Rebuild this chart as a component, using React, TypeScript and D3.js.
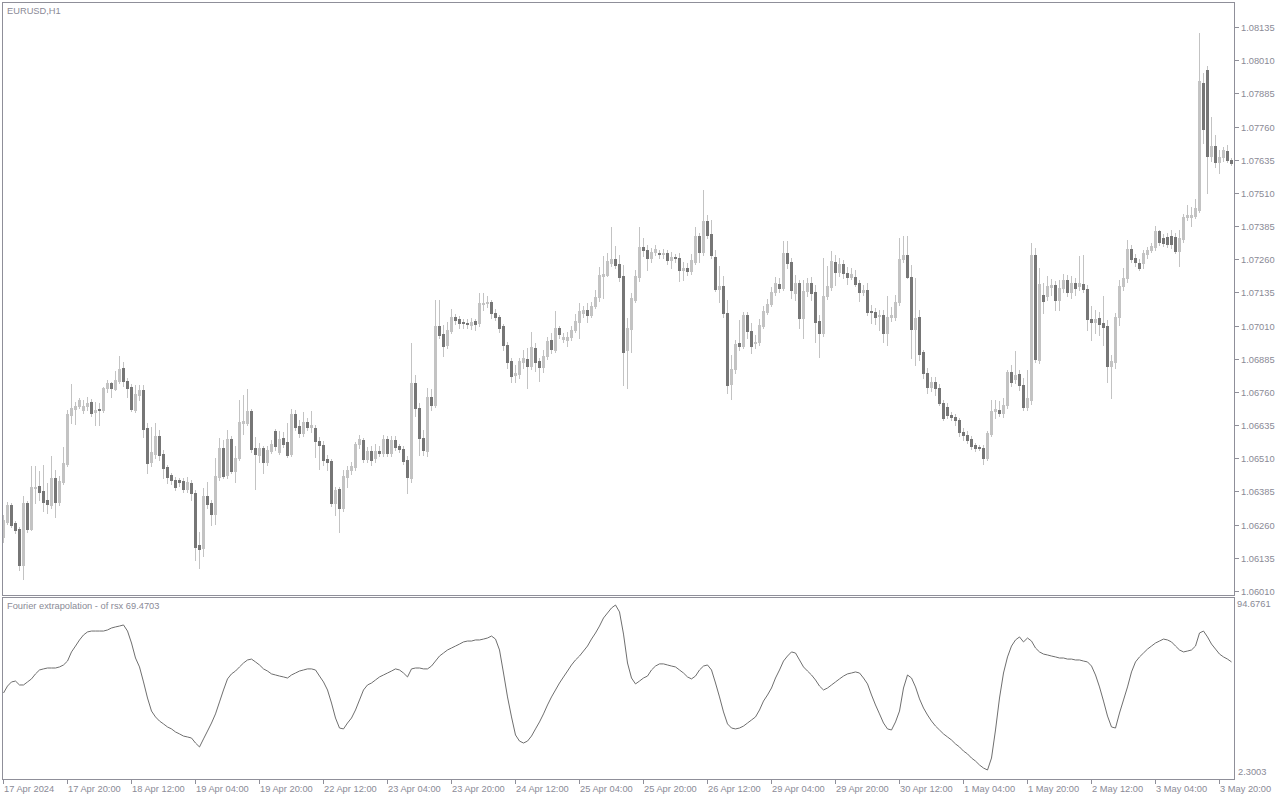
import React from 'react';
import * as d3 from 'd3';

const symbolTitle = 'EURUSD,H1';
const indicatorTitle = 'Fourier extrapolation - of rsx 69.4703';
const indicatorMaxLabel = '94.6761';
const indicatorMinLabel = '2.3003';

const timeLabels = ['17 Apr 2024','17 Apr 20:00','18 Apr 12:00','19 Apr 04:00','19 Apr 20:00','22 Apr 12:00','23 Apr 04:00','23 Apr 20:00','24 Apr 12:00','25 Apr 04:00','25 Apr 20:00','26 Apr 12:00','29 Apr 04:00','29 Apr 20:00','30 Apr 12:00','1 May 04:00','1 May 20:00','2 May 12:00','3 May 04:00','3 May 20:00'];
const timeLabelBars = [0,16,32,48,64,80,96,112,128,144,160,176,192,208,224,240,256,272,288,304];

const priceTicks = [1.08135,1.08010,1.07885,1.07760,1.07635,1.07510,1.07385,1.07260,1.07135,1.07010,1.06885,1.06760,1.06635,1.06510,1.06385,1.06260,1.06135,1.06010];

const open = [
1.06213,1.06270,1.06334,1.06266,1.06243,1.06108,1.06341,1.06243,1.06398,1.06405,
1.06386,1.06352,1.06334,1.06435,1.06345,1.06420,1.06488,1.06673,1.06695,1.06707,
1.06692,1.06707,1.06722,1.06684,1.06695,1.06692,1.06774,1.06793,1.06771,1.06801,
1.06850,1.06801,1.06778,1.06692,1.06748,1.06767,1.06624,1.06496,1.06526,1.06594,
1.06526,1.06477,1.06447,1.06428,1.06428,1.06424,1.06394,1.06416,1.06379,1.06183,
1.06172,1.06368,1.06341,1.06300,1.06439,1.06548,1.06447,1.06582,1.06462,1.06511,
1.06643,1.06643,1.06688,1.06548,1.06522,1.06548,1.06496,1.06537,1.06612,1.06533,
1.06586,1.06571,1.06526,1.06677,1.06631,1.06605,1.06646,1.06628,1.06624,1.06575,
1.06560,1.06507,1.06499,1.06341,1.06394,1.06322,1.06439,1.06466,1.06477,1.06564,
1.06579,1.06507,1.06537,1.06511,1.06537,1.06530,1.06582,1.06530,1.06579,1.06556,
1.06545,1.06503,1.06435,1.06793,1.06699,1.06586,1.06537,1.06741,1.06710,1.07008,
1.06978,1.06936,1.06989,1.07042,1.07034,1.07023,1.07019,1.07012,1.07027,1.07019,
1.07091,1.07095,1.07098,1.07057,1.07042,1.07008,1.06936,1.06876,1.06823,1.06827,
1.06872,1.06884,1.06857,1.06925,1.06876,1.06854,1.06895,1.06955,1.06918,1.07000,
1.06959,1.06955,1.06967,1.06993,1.07023,1.07057,1.07068,1.07049,1.07083,1.07117,
1.07196,1.07200,1.07245,1.07260,1.07241,1.07196,1.06918,1.06997,1.07106,1.07193,
1.07306,1.07294,1.07264,1.07287,1.07283,1.07279,1.07283,1.07257,1.07268,1.07264,
1.07219,1.07226,1.07215,1.07249,1.07347,1.07287,1.07404,1.07355,1.07268,1.07147,
1.07159,1.07057,1.06790,1.06846,1.06944,1.06933,1.07049,1.06989,1.06944,1.06948,
1.07008,1.07061,1.07091,1.07136,1.07166,1.07151,1.07283,1.07249,1.07132,1.07170,
1.07038,1.07140,1.07170,1.07136,1.07027,1.06982,1.07121,1.07155,1.07249,1.07211,
1.07241,1.07208,1.07193,1.07193,1.07170,1.07136,1.07144,1.07065,1.07061,1.07046,
1.07049,1.06982,1.07042,1.07042,1.07098,1.07260,1.07275,1.07193,1.06997,1.07042,
1.06910,1.06831,1.06778,1.06797,1.06774,1.06718,1.06703,1.06673,1.06665,1.06654,
1.06609,1.06597,1.06582,1.06560,1.06552,1.06548,1.06511,1.06601,1.06688,1.06692,
1.06680,1.06710,1.06835,1.06808,1.06827,1.06786,1.06703,1.06729,1.07275,1.06880,
1.07125,1.07121,1.07155,1.07162,1.07106,1.07151,1.07181,1.07136,1.07170,1.07159,
1.07166,1.07147,1.07034,1.07023,1.07038,1.07019,1.07008,1.06857,1.06872,1.07042,
1.07159,1.07189,1.07298,1.07264,1.07245,1.07245,1.07279,1.07294,1.07306,1.07366,
1.07340,1.07343,1.07347,1.07343,1.07291,1.07336,1.07419,1.07419,1.07422,1.07445,
1.07923,1.07972,1.07648,1.07686,1.07626,1.07645,1.07667,1.07633
];

const high = [
1.06296,1.06345,1.06341,1.06273,1.06251,1.06368,1.06349,1.06481,1.06481,1.06462,
1.06484,1.06416,1.06518,1.06466,1.06443,1.06552,1.06692,1.06790,1.06722,1.06737,
1.06729,1.06741,1.06733,1.06722,1.06718,1.06778,1.06805,1.06797,1.06838,1.06895,
1.06872,1.06812,1.06790,1.06786,1.06786,1.06786,1.06643,1.06628,1.06643,1.06616,
1.06541,1.06484,1.06454,1.06439,1.06435,1.06435,1.06439,1.06428,1.06390,1.06232,
1.06398,1.06420,1.06352,1.06511,1.06586,1.06579,1.06616,1.06594,1.06556,1.06729,
1.06748,1.06771,1.06695,1.06590,1.06567,1.06556,1.06556,1.06579,1.06620,1.06612,
1.06609,1.06643,1.06695,1.06692,1.06654,1.06684,1.06661,1.06688,1.06635,1.06590,
1.06575,1.06522,1.06507,1.06401,1.06401,1.06466,1.06481,1.06496,1.06571,1.06597,
1.06586,1.06552,1.06556,1.06564,1.06556,1.06597,1.06594,1.06594,1.06594,1.06564,
1.06556,1.06518,1.06944,1.06823,1.06718,1.06616,1.06774,1.06771,1.07106,1.07106,
1.07012,1.07023,1.07072,1.07053,1.07046,1.07034,1.07034,1.07038,1.07034,1.07132,
1.07132,1.07121,1.07106,1.07072,1.07049,1.07016,1.06948,1.06887,1.06861,1.06887,
1.06918,1.06925,1.06985,1.06944,1.06887,1.06918,1.06967,1.06982,1.07065,1.07008,
1.06982,1.06985,1.07008,1.07053,1.07095,1.07083,1.07095,1.07098,1.07144,1.07230,
1.07272,1.07283,1.07381,1.07309,1.07275,1.07238,1.07038,1.07132,1.07219,1.07381,
1.07340,1.07313,1.07302,1.07313,1.07294,1.07298,1.07294,1.07287,1.07279,1.07283,
1.07249,1.07245,1.07279,1.07381,1.07358,1.07520,1.07426,1.07407,1.07294,1.07234,
1.07196,1.07106,1.06899,1.06955,1.07031,1.07061,1.07061,1.07019,1.06974,1.07034,
1.07083,1.07110,1.07155,1.07193,1.07189,1.07328,1.07328,1.07264,1.07200,1.07181,
1.07181,1.07189,1.07193,1.07162,1.07049,1.07264,1.07234,1.07291,1.07275,1.07264,
1.07257,1.07230,1.07226,1.07219,1.07181,1.07162,1.07170,1.07087,1.07076,1.07068,
1.07068,1.07121,1.07080,1.07125,1.07340,1.07347,1.07347,1.07238,1.07189,1.07068,
1.06918,1.06850,1.06816,1.06816,1.06790,1.06729,1.06718,1.06684,1.06677,1.06661,
1.06624,1.06612,1.06594,1.06567,1.06560,1.06560,1.06612,1.06729,1.06729,1.06725,
1.06737,1.06842,1.06861,1.06914,1.06842,1.06812,1.06842,1.07321,1.07302,1.07226,
1.07170,1.07196,1.07185,1.07177,1.07181,1.07204,1.07200,1.07196,1.07189,1.07272,
1.07275,1.07162,1.07083,1.07068,1.07061,1.07121,1.07031,1.06899,1.07057,1.07181,
1.07226,1.07332,1.07313,1.07279,1.07260,1.07294,1.07306,1.07321,1.07385,1.07370,
1.07355,1.07358,1.07370,1.07358,1.07370,1.07430,1.07464,1.07456,1.07486,1.08112,
1.07961,1.07987,1.07795,1.07728,1.07671,1.07682,1.07690,1.07641
];

const low = [
1.06194,1.06262,1.06251,1.06228,1.06089,1.06055,1.06232,1.06240,1.06341,1.06352,
1.06311,1.06304,1.06322,1.06288,1.06334,1.06413,1.06481,1.06643,1.06639,1.06699,
1.06680,1.06692,1.06669,1.06635,1.06635,1.06684,1.06759,1.06741,1.06767,1.06793,
1.06782,1.06741,1.06688,1.06684,1.06729,1.06590,1.06454,1.06481,1.06511,1.06503,
1.06435,1.06416,1.06413,1.06390,1.06405,1.06383,1.06383,1.06352,1.06127,1.06096,
1.06142,1.06322,1.06258,1.06262,1.06428,1.06435,1.06435,1.06454,1.06420,1.06503,
1.06601,1.06635,1.06533,1.06394,1.06496,1.06454,1.06484,1.06530,1.06541,1.06526,
1.06552,1.06515,1.06518,1.06616,1.06590,1.06594,1.06616,1.06609,1.06515,1.06469,
1.06484,1.06466,1.06330,1.06296,1.06232,1.06311,1.06401,1.06450,1.06466,1.06548,
1.06496,1.06496,1.06484,1.06496,1.06518,1.06518,1.06518,1.06518,1.06541,1.06533,
1.06488,1.06379,1.06420,1.06669,1.06522,1.06522,1.06518,1.06692,1.06703,1.06963,
1.06895,1.06925,1.06982,1.07016,1.07000,1.07000,1.07000,1.06997,1.06993,1.07008,
1.07068,1.07080,1.07038,1.07031,1.06985,1.06918,1.06850,1.06797,1.06797,1.06812,
1.06850,1.06774,1.06846,1.06838,1.06801,1.06835,1.06884,1.06906,1.06910,1.06963,
1.06948,1.06933,1.06955,1.06985,1.06963,1.07042,1.07023,1.07042,1.07076,1.07102,
1.07113,1.07196,1.07234,1.07226,1.07177,1.06786,1.06774,1.06910,1.07098,1.07177,
1.07272,1.07219,1.07249,1.07275,1.07264,1.07264,1.07241,1.07226,1.07249,1.07177,
1.07181,1.07200,1.07204,1.07241,1.07249,1.07275,1.07340,1.07264,1.07140,1.07098,
1.07042,1.06756,1.06733,1.06831,1.06918,1.06925,1.06963,1.06906,1.06925,1.06936,
1.07000,1.07053,1.07083,1.07125,1.07136,1.07144,1.07226,1.07113,1.07106,1.07000,
1.06963,1.07121,1.07106,1.06948,1.06891,1.06970,1.07110,1.07144,1.07162,1.07196,
1.07189,1.07166,1.07185,1.07159,1.07102,1.07125,1.07049,1.07019,1.07016,1.06993,
1.06948,1.06936,1.07027,1.07031,1.07087,1.07249,1.07189,1.06887,1.06861,1.06880,
1.06812,1.06756,1.06763,1.06748,1.06710,1.06654,1.06661,1.06654,1.06635,1.06594,
1.06579,1.06567,1.06545,1.06537,1.06541,1.06488,1.06503,1.06594,1.06661,1.06669,
1.06665,1.06699,1.06782,1.06793,1.06767,1.06692,1.06692,1.06714,1.06872,1.06869,
1.07057,1.07106,1.07125,1.07068,1.07068,1.07136,1.07121,1.07113,1.07125,1.07144,
1.07136,1.06993,1.06955,1.06982,1.06974,1.06936,1.06797,1.06737,1.06850,1.07012,
1.07144,1.07174,1.07249,1.07234,1.07219,1.07226,1.07264,1.07287,1.07294,1.07313,
1.07309,1.07306,1.07302,1.07283,1.07234,1.07324,1.07407,1.07385,1.07415,1.07437,
1.07697,1.07509,1.07630,1.07607,1.07584,1.07630,1.07626,1.07614
];

const close = [
1.06277,1.06334,1.06258,1.06240,1.06108,1.06341,1.06243,1.06401,1.06401,1.06383,
1.06345,1.06337,1.06435,1.06345,1.06424,1.06492,1.06677,1.06699,1.06707,1.06729,
1.06707,1.06718,1.06680,1.06692,1.06692,1.06774,1.06793,1.06774,1.06805,1.06846,
1.06801,1.06774,1.06695,1.06752,1.06767,1.06620,1.06492,1.06533,1.06594,1.06522,
1.06473,1.06439,1.06428,1.06401,1.06420,1.06394,1.06420,1.06379,1.06176,1.06168,
1.06368,1.06337,1.06300,1.06443,1.06548,1.06443,1.06582,1.06462,1.06511,1.06646,
1.06650,1.06688,1.06545,1.06526,1.06548,1.06496,1.06541,1.06564,1.06556,1.06582,
1.06564,1.06522,1.06677,1.06628,1.06605,1.06646,1.06628,1.06635,1.06575,1.06560,
1.06503,1.06496,1.06341,1.06390,1.06322,1.06443,1.06466,1.06481,1.06564,1.06582,
1.06507,1.06537,1.06503,1.06537,1.06530,1.06582,1.06530,1.06579,1.06552,1.06545,
1.06499,1.06439,1.06793,1.06699,1.06586,1.06541,1.06741,1.06710,1.07008,1.06974,
1.06933,1.06993,1.07042,1.07031,1.07019,1.07019,1.07017,1.07023,1.07016,1.07095,
1.07095,1.07098,1.07057,1.07042,1.07000,1.06936,1.06872,1.06820,1.06831,1.06876,
1.06887,1.06857,1.06929,1.06872,1.06854,1.06895,1.06952,1.06921,1.07000,1.06978,
1.06967,1.06967,1.06993,1.07027,1.07065,1.07068,1.07049,1.07083,1.07117,1.07200,
1.07204,1.07253,1.07260,1.07238,1.07193,1.06910,1.07000,1.07113,1.07196,1.07306,
1.07294,1.07264,1.07287,1.07298,1.07279,1.07283,1.07257,1.07268,1.07264,1.07219,
1.07226,1.07215,1.07257,1.07347,1.07287,1.07404,1.07351,1.07275,1.07147,1.07159,
1.07057,1.06786,1.06846,1.06940,1.06933,1.07049,1.06989,1.06933,1.06948,1.07012,
1.07065,1.07091,1.07136,1.07170,1.07151,1.07283,1.07245,1.07144,1.07170,1.07038,
1.07140,1.07170,1.07132,1.07023,1.06982,1.07121,1.07159,1.07253,1.07211,1.07241,
1.07208,1.07193,1.07204,1.07166,1.07136,1.07144,1.07061,1.07061,1.07042,1.07049,
1.06982,1.07042,1.07049,1.07098,1.07260,1.07275,1.07193,1.06997,1.07038,1.06903,
1.06831,1.06778,1.06797,1.06774,1.06718,1.06661,1.06673,1.06665,1.06654,1.06609,
1.06597,1.06579,1.06556,1.06548,1.06548,1.06511,1.06605,1.06688,1.06695,1.06680,
1.06710,1.06835,1.06797,1.06823,1.06786,1.06703,1.06737,1.07275,1.06884,1.07166,
1.07102,1.07159,1.07162,1.07106,1.07151,1.07181,1.07136,1.07170,1.07151,1.07170,
1.07147,1.07034,1.07023,1.07034,1.07016,1.07004,1.06857,1.06876,1.07042,1.07159,
1.07189,1.07298,1.07260,1.07249,1.07226,1.07283,1.07294,1.07309,1.07366,1.07324,
1.07321,1.07317,1.07317,1.07291,1.07340,1.07419,1.07426,1.07426,1.07453,1.07931,
1.07750,1.07648,1.07686,1.07626,1.07645,1.07671,1.07633,1.07622
];

const rsx = [
45.4,49.3,51.6,52.1,49.9,49.9,51.6,53.3,56.1,58.3,
58.9,59.4,59.4,59.4,60.0,61.1,63.3,68.4,71.7,75.1,
77.9,79.6,80.1,80.1,80.1,80.1,80.7,81.8,82.4,82.9,
83.5,80.1,73.4,65.0,60.0,51.6,42.6,35.3,32.0,29.7,
28.1,26.4,25.3,23.6,22.5,21.3,20.8,20.2,17.4,15.2,
19.7,24.1,28.6,33.7,40.4,47.1,53.3,56.1,57.7,60.0,
62.2,63.9,64.4,62.8,61.1,58.9,57.7,56.1,55.5,54.9,
54.4,53.8,55.5,56.6,57.7,58.3,58.9,58.9,58.3,54.9,
51.6,47.1,39.8,31.4,25.8,25.3,28.6,31.4,35.9,41.5,
47.1,49.9,51.0,52.7,54.4,55.5,56.6,57.7,58.9,58.3,
56.6,54.4,58.9,59.4,59.4,58.9,58.9,60.5,63.3,66.1,
67.8,69.5,70.6,71.7,72.8,74.0,74.5,74.5,75.1,75.1,
75.6,76.2,77.3,75.6,69.5,56.6,43.2,32.0,21.9,18.5,
17.4,18.5,21.3,25.3,29.2,33.7,38.7,43.2,47.1,51.0,
54.4,57.7,61.1,63.9,66.1,68.9,71.7,75.6,79.0,82.9,
87.4,90.2,93.0,94.6761,90.8,78.4,62.2,53.8,50.5,52.1,
53.8,54.9,58.3,60.5,61.7,61.7,61.1,60.5,60.0,58.3,
56.6,54.4,53.3,54.9,58.3,60.5,61.1,58.3,51.0,43.2,
34.8,28.1,25.8,25.3,25.8,26.9,28.6,30.3,32.0,35.9,
40.9,44.3,48.2,53.8,58.3,63.3,66.1,68.4,67.8,63.9,
60.0,57.7,55.5,52.7,49.3,47.1,48.2,49.9,51.6,53.3,
54.9,56.1,56.6,57.2,56.6,53.8,50.5,44.3,38.7,33.7,
28.6,25.3,24.7,29.2,35.3,48.2,55.5,53.8,48.8,42.1,
37.0,33.1,29.7,26.9,24.7,22.5,20.8,19.1,16.9,15.2,
12.9,11.3,9.0,7.3,5.1,3.4,2.3003,9.0,24.7,42.6,
56.6,65.6,71.7,75.1,76.8,74.0,76.2,74.5,70.6,68.4,
67.2,66.7,66.1,65.6,65.0,65.0,64.4,64.4,63.9,63.9,
63.3,62.8,60.5,55.5,48.8,40.9,32.5,26.4,25.8,34.2,
41.5,48.8,57.2,62.8,65.6,67.8,70.0,71.7,73.4,74.5,
75.6,75.1,74.0,71.7,69.5,68.4,68.9,69.5,71.7,79.0,
80.1,76.8,72.8,70.0,67.2,65.6,64.4,62.8
];

const FONT = "Tahoma, 'Liberation Sans', Arial, sans-serif";
const TEXT = '#8a8a96';
const FRAME = '#8f8f99';
const UP = '#c3c3c3';
const DOWN = '#767676';
const WICK = '#c3c3c3';

export default function App() {
  const W = 1280, H = 800;
  const L = 2, R = 1234;
  const mainTop = 2, mainBottom = 595;
  const indTop = 597, indBottom = 779;

  const n = close.length;
  const x = d3.scaleLinear().domain([0, n - 1]).range([3, 1231]);
  const y = d3.scaleLinear().domain([priceTicks[priceTicks.length - 1], priceTicks[0]]).range([591, 27]);
  const ext = d3.extent(rsx) as [number, number];
  const yi = d3.scaleLinear().domain(ext).range([770, 605]);

  const line = d3.line<number>()
    .x((_, i) => x(i) + 0.5)
    .y((d) => yi(d))
    .curve(d3.curveLinear);

  const candles = d3.range(n).map((i) => {
    const cx = Math.round(x(i));
    const o = open[i], c = close[i];
    const up = c >= o;
    const yt = Math.round(y(Math.max(o, c)));
    const yb = Math.round(y(Math.min(o, c)));
    const yh = Math.round(y(high[i]));
    const yl = Math.round(y(low[i]));
    return { i, cx, up, yt, yb, yh, yl };
  });

  const fontSize = 9.3;

  return (
    <svg width={W} height={H} style={{ position: 'absolute', left: 0, top: 0, background: '#fff' }}
      fontFamily={FONT}>
      <defs>
        <clipPath id="mainClip">
          <rect x={L + 1} y={mainTop + 1} width={R - L - 1} height={mainBottom - mainTop - 1} />
        </clipPath>
        <clipPath id="indClip">
          <rect x={L + 1} y={indTop + 1} width={R - L - 1} height={indBottom - indTop - 1} />
        </clipPath>
      </defs>
      <rect x={0} y={0} width={W} height={H} fill="#ffffff" />

      {/* candles */}
      <g clipPath="url(#mainClip)" shapeRendering="crispEdges">
        {candles.map((d) => (
          <g key={d.i}>
            <rect x={d.cx} y={d.yh} width={1} height={Math.max(1, d.yl - d.yh + 1)} fill={WICK} />
            <rect x={d.cx - 1} y={d.yt} width={3} height={Math.max(1, d.yb - d.yt + 1)} fill={d.up ? UP : DOWN} />
          </g>
        ))}
      </g>

      {/* indicator line */}
      <g clipPath="url(#indClip)">
        <path d={line(rsx) || ''} fill="none" stroke="#6f6f6f" strokeWidth={1} />
      </g>

      {/* frames */}
      <g shapeRendering="crispEdges" stroke={FRAME} fill="none">
        <rect x={L + 0.5} y={mainTop + 0.5} width={R - L} height={mainBottom - mainTop} />
        <rect x={L + 0.5} y={indTop + 0.5} width={R - L} height={indBottom - indTop} />
      </g>

      {/* price axis */}
      <g shapeRendering="crispEdges">
        {priceTicks.map((p) => {
          const yy = Math.round(y(p));
          return (
            <g key={p}>
              <line x1={R + 0.5} x2={R + 4.5} y1={yy + 0.5} y2={yy + 0.5} stroke={FRAME} />
              <text x={R + 7} y={yy + 4} fontSize={fontSize} fill={TEXT}>{p.toFixed(5)}</text>
            </g>
          );
        })}
      </g>

      {/* indicator scale labels */}
      <text x={R + 3} y={indTop + 10} fontSize={fontSize} fill={TEXT}>{indicatorMaxLabel}</text>
      <text x={R + 4} y={indBottom - 4} fontSize={fontSize} fill={TEXT}>{indicatorMinLabel}</text>

      {/* time axis */}
      <g shapeRendering="crispEdges">
        {timeLabels.map((t, k) => {
          const xx = Math.round(x(timeLabelBars[k]));
          return (
            <g key={t}>
              <line x1={xx + 0.5} x2={xx + 0.5} y1={indBottom} y2={indBottom + 5} stroke={FRAME} />
              <text x={xx + 1} y={indBottom + 13} fontSize={fontSize} fill={TEXT}>{t}</text>
            </g>
          );
        })}
      </g>

      {/* titles */}
      <text x={7} y={mainTop + 12} fontSize={fontSize} fill={TEXT}>{symbolTitle}</text>
      <text x={7} y={indTop + 12} fontSize={fontSize} fill={TEXT}>{indicatorTitle}</text>
    </svg>
  );
}
